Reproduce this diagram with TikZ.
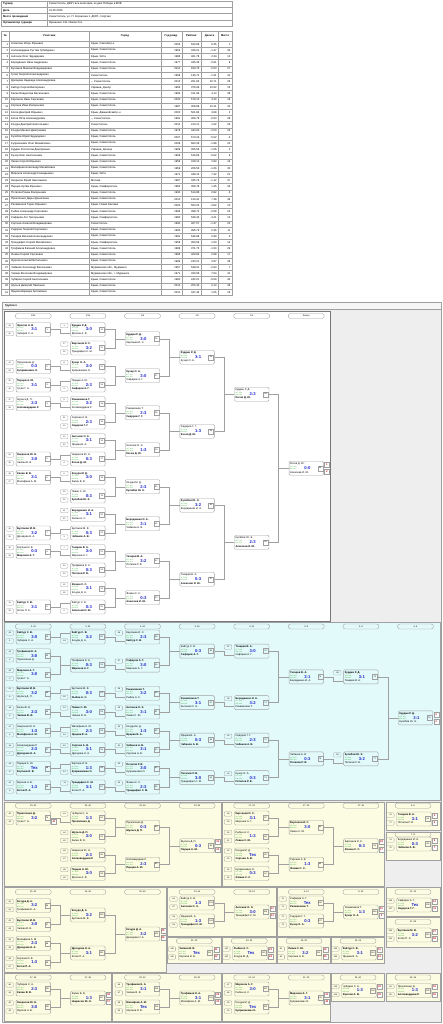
\documentclass[tikz,border=0pt]{standalone}
\usepackage{fontspec}
\setmainfont{Liberation Sans}
\usepackage{tikz}
\usetikzlibrary{positioning,calc}
\definecolor{lineGray}{RGB}{160,160,160}
\definecolor{frameGray}{RGB}{120,120,120}
\definecolor{bgGray}{RGB}{238,238,238}
\definecolor{hdrGray}{RGB}{246,246,246}
\definecolor{panelCyan}{RGB}{226,250,250}
\definecolor{panelYellow}{RGB}{252,252,226}
\definecolor{timeGreen}{RGB}{30,165,30}
\definecolor{scoreBlue}{RGB}{30,40,205}
\definecolor{resRed}{RGB}{205,20,20}

\newcounter{mnum}
% match box: name, x, y, top player, bottom player, score
\newcommand{\mt}[6]{%
  \stepcounter{mnum}%
  \node[mbox] (#1) at (#2,#3) {};
  \node[pname] (#1a) at ([xshift=1.1pt,yshift=4pt]#1.west) {#4};
  \node[ptime] (#1t) at ([xshift=1.1pt,yshift=1.3pt]#1.west) {11:7 11:9};
  \node[ptime] (#1u) at ([xshift=1.1pt,yshift=-1.1pt]#1.west) {8:11 11:6};
  \node[pscore] (#1s) at ([xshift=1pt]#1.center) {#6};
  \node[pname] (#1b) at ([xshift=1.1pt,yshift=-4pt]#1.west) {#5};
  \node[nbox] (#1n) at ([xshift=-3.6pt]#1.east) {\arabic{mnum}};
}
\newcommand{\sdt}[2]{\node[seedbox] (#1p) at ([xshift=-6.2pt,yshift=4pt]#1.west) {#2};}
\newcommand{\sdb}[2]{\node[seedbox] (#1q) at ([xshift=-6.2pt,yshift=-4pt]#1.west) {#2};}
\newcommand{\res}[3]{%
  \node[resbox] (#1x) at ([xshift=3.2pt,yshift=3.7pt]#1.east) {#2};
  \node[resbox] (#1y) at ([xshift=3.2pt,yshift=-3.7pt]#1.east) {#3};}
\newcommand{\jn}[3]{%
  \draw[conn] (#1.east) -- ++(9.5pt,0) |- (#3.west);
  \draw[conn] (#2.east) -- ++(9.5pt,0) |- (#3.west);}
\newcommand{\lk}[3]{\draw[conn] (#1.east) -- ++(9.5pt,0) |- ([yshift=#3]#2.west);}

\begin{document}
\begin{tikzpicture}[x=1pt,y=-1pt,
  mbox/.style={draw=lineGray,line width=.4pt,rounded corners=1.2pt,minimum width=34.5pt,minimum height=14pt,inner sep=0pt},
  pname/.style={anchor=west,inner sep=0pt,font=\fontsize{2.6}{3}\selectfont},
  ptime/.style={anchor=west,inner sep=0pt,text=timeGreen,font=\fontsize{1.6}{2}\selectfont},
  pscore/.style={inner sep=0pt,text=scoreBlue,font=\fontsize{4.2}{4.5}\selectfont\bfseries},
  nbox/.style={draw=lineGray,line width=.3pt,minimum width=5pt,minimum height=5pt,inner sep=0pt,font=\fontsize{2}{2.4}\selectfont},
  seedbox/.style={draw=lineGray,line width=.3pt,rounded corners=.8pt,minimum width=7.5pt,minimum height=4.4pt,inner sep=0pt,font=\fontsize{2}{2.4}\selectfont},
  resbox/.style={draw=lineGray,line width=.3pt,fill=white,minimum width=5pt,minimum height=5pt,inner sep=0pt,text=resRed,font=\fontsize{2.6}{3}\selectfont\bfseries},
  rhead/.style={draw=lineGray,line width=.35pt,rounded corners=2.4pt,minimum width=36pt,minimum height=5pt,inner sep=0pt,font=\fontsize{2.2}{2.6}\selectfont},
  conn/.style={draw=lineGray,line width=.4pt},
  tcell/.style={inner sep=0pt,font=\fontsize{2.7}{3.2}\selectfont},
  tgrid/.style={draw=lineGray,line width=.3pt},
  panel/.style={draw=lineGray,line width=.5pt}
]
\useasboundingbox (0,0) rectangle (443,1024);
\fill[white] (0,0) rectangle (443,1024);

% tournament header
\draw[tgrid] (1,1) rectangle (232,26.2);
\foreach \yy in {7.3,13.6,19.9} \draw[tgrid] (1,\yy) -- (232,\yy);
\draw[tgrid] (47,1) -- (47,26.2);
\node[tcell,anchor=west,font=\fontsize{2.7}{3.2}\selectfont\bfseries] (k1) at (3,4.15) {Турнир};
\node[tcell,anchor=west,font=\fontsize{2.7}{3.2}\selectfont\bfseries] (k2) at (3,10.45) {Дата};
\node[tcell,anchor=west,font=\fontsize{2.7}{3.2}\selectfont\bfseries] (k3) at (3,16.75) {Место проведения};
\node[tcell,anchor=west,font=\fontsize{2.7}{3.2}\selectfont\bfseries] (k4) at (3,23.05) {Организатор турнира};
\node[tcell,anchor=west] (v1) at (49,4.15) {Севастополь, ДЮП, все категории, ко дню Победы в ВОВ};
\node[tcell,anchor=west] (v2) at (49,10.45) {01.05.2025};
\node[tcell,anchor=west] (v3) at (49,16.75) {Севастополь, ул. П. Корчагина 1, ДЮП, спортзал};
\node[tcell,anchor=west] (v4) at (49,23.05) {Ярошенко С.В./Чижов О.А.};

% participants
\draw[tgrid] (1.5,31) rectangle (232,295.2);
\foreach \k in {1,...,41} \draw[tgrid] (1.5,{34.8+6.2*\k}) -- (232,{34.8+6.2*\k});
\foreach \xx in {9.3,89.3,160.7,182,201,218.3} \draw[tgrid] (\xx,31) -- (\xx,295.2);
\node[tcell,font=\fontsize{2.7}{3.2}\selectfont\bfseries] (t1) at (5.4,36) {№};
\node[tcell,font=\fontsize{2.7}{3.2}\selectfont\bfseries] (t2) at (49.3,36) {Участник};
\node[tcell,font=\fontsize{2.7}{3.2}\selectfont\bfseries] (t3) at (125,36) {Город};
\node[tcell,font=\fontsize{2.7}{3.2}\selectfont\bfseries] (t4) at (171.3,36) {Год рожд.};
\node[tcell,font=\fontsize{2.7}{3.2}\selectfont\bfseries] (t5) at (191.5,36) {Рейтинг};
\node[tcell,font=\fontsize{2.7}{3.2}\selectfont\bfseries] (t6) at (209.6,36) {Дельта};
\node[tcell,font=\fontsize{2.7}{3.2}\selectfont\bfseries] (t7) at (225.1,36) {Место};
\foreach \i/\nm/\ct/\yr/\rt/\dl/\pl in {
 1/{Алексеев Игорь Юрьевич}/{Крым, Сакский р-н}/2005/533.68/6.35/1,
 2/{Аллахвердиев Рустам Губейдович}/{Крым, Севастополь}/1962/326.21/-1.47/35,
 3/{Антонов Олег Эдуардович}/{Крым, Ялта}/1986/461.78/2.34/13,
 4/{Бородаенко Иван Андреевич}/{Крым, Севастополь}/1977/345.36/-0.61/8,
 5/{Булгаков Максим Владимирович}/{Крым, Севастополь}/2010/183.76/-0.53/27,
 6/{Гусев Георгий Александрович}/{Севастополь}/1966/136.72/-1.31/41,
 7/{Дроздова Надежда Александровна}/{--, Севастополь}/2013/201.93/10.71/26,
 8/{Кайтур Сергей Викторович}/{Украина, Днепр}/1966/376.99/10.62/15,
 9/{Калин Владислав Васильевич}/{Крым, Севастополь}/1984/311.99/4.13/38,
 10/{Кирсанов Иван Сергеевич}/{Крым, Севастополь}/2000/579.15/4.30/18,
 11/{Кортнев Иван Валерьевич}/{Крым, Севастополь}/1987/408.88/10.31/32,
 12/{Косов Дмитрий Юрьевич}/{Крым, Джанкойский р-н}/2003/501.84/3.68/2,
 13/{Котов Пётр Александрович}/{--, Севастополь}/1991/406.79/-0.53/28,
 14/{Кочура Дмитрий Анатольевич}/{Севастополь}/2013/214.11/1.62/25,
 15/{Кочура Михаил Дмитриевич}/{Крым, Севастополь}/1976/443.63/-2.04/24,
 16/{Кулябов Юрий Эдуардович}/{Крым, Севастополь}/2007/573.24/-5.02/4,
 17/{Куприянович Олег Михайлович}/{Крым, Севастополь}/2008/683.39/-1.88/22,
 18/{Курдин Ростислав Дмитриевич}/{Украина, Донецк}/1969/355.66/-1.06/3,
 19/{Кучер Олег Анатольевич}/{Крым, Севастополь}/1969/516.86/-5.62/9,
 20/{Левин Сергей Юрьевич}/{Крым, Севастополь}/1958/418.10/1.83/19,
 21/{Малафеев Александр Михайлович}/{Крым, Севастополь}/1959/206.55/-1.06/30,
 22/{Миронов Александр Геннадьевич}/{Крым, Ялта}/1971/349.15/7.32/21,
 23/{Некрасов Юрий Николаевич}/{Москва}/1987/335.76/-1.12/37,
 24/{Перцев Артём Юрьевич}/{Крым, Симферополь}/1982/358.78/1.45/33,
 25/{Потапов Роман Валерьевич}/{Крым, Севастополь}/1990/514.88/2.82/6,
 26/{Прокопенко Дарья Денисовна}/{Крым, Севастополь}/2010/124.41/7.38/36,
 27/{Рахимзянов Тарас Юрьевич}/{Крым, Новая Каховка}/2005/553.23/-3.82/10,
 28/{Рыбин Александр Сергеевич}/{Крым, Севастополь}/1985/398.72/-0.69/23,
 29/{Сафаров Ант Григорьевич}/{Крым, Симферополь}/1980/538.43/-3.21/12,
 30/{Сергеев Алексей Владимирович}/{Севастополь}/1990/407.57/-1.47/20,
 31/{Сидоров Георгий Георгиевич}/{Крым, Севастополь}/1965/495.79/2.35/11,
 32/{Тазарев Виталий Александрович}/{Крым, Севастополь}/1981/546.68/0.99/5,
 33/{Трандафил Сергей Михайлович}/{Крым, Симферополь}/1958/450.59/1.54/14,
 34/{Трофимов Евгений Александрович}/{Крым, Севастополь}/1989/371.70/-1.50/29,
 35/{Фомин Сергей Сергеевич}/{Крым, Севастополь}/1986/409.84/2.98/17,
 36/{Фролов Алексей Витальевич}/{Крым, Севастополь}/1989/233.01/2.87/39,
 37/{Чабанов Александр Васильевич}/{Мурманская обл., Мурманск}/1957/548.91/-0.94/7,
 38/{Чапкин Вячеслав Владимирович}/{Мурманская обл., г. Мурманск}/1971/330.68/7.54/31,
 39/{Чубаров Сергей Анатольевич}/{Крым, Севастополь}/1980/242.01/-6.59/40,
 40/{Шульга Дмитрий Павлович}/{Крым, Севастополь}/2013/205.43/2.13/34,
 41/{Ярцева Варвара Артёмовна}/{Крым, Севастополь}/2010/437.44/1.55/16}{
  \pgfmathsetmacro{\yy}{44.1+6.2*(\i-1)}
  \node[tcell,anchor=east] (pn\i) at (8.3,\yy) {\i};
  \node[tcell,anchor=west] (pf\i) at (11,\yy) {\nm};
  \node[tcell,anchor=west] (pc\i) at (91,\yy) {\ct};
  \node[tcell,anchor=east] (py\i) at (180.5,\yy) {\yr};
  \node[tcell,anchor=east] (pr\i) at (199.5,\yy) {\rt};
  \node[tcell,anchor=east] (pd\i) at (216.8,\yy) {\dl};
  \node[tcell,anchor=east] (pp\i) at (230.5,\yy) {\pl};
}

% group frame and panels
\draw[panel,fill=hdrGray] (2,302.5) rectangle (441.5,309.5);
\node[tcell,anchor=west,font=\fontsize{2.7}{3.2}\selectfont\bfseries] (grp) at (5,306) {Группа 1};
\draw[panel,fill=bgGray] (2,309.5) rectangle (441.5,1022.5);
\draw[draw=frameGray,line width=.7pt,fill=white] (4,311) rectangle (330.5,621.5);
\draw[panel,fill=panelCyan] (4,622.5) rectangle (440,800.5);
\foreach \xa/\ya/\xb/\yb in {4/802/221/886, 222.5/802/384/886, 386/802/440/830, 386/832/440/860,
  4/887.5/166/972, 167.5/887.5/276/936, 277.5/887.5/384/936, 386/887.5/440/916, 386/917.5/440/947,
  167.5/937.5/221/963, 222.5/937.5/276/963, 277.5/937.5/330/963, 331.5/937.5/384/963,
  4/973.5/111/1021, 112.5/973.5/221/1021, 222.5/973.5/330/1021, 331.5/973.5/384/1001, 386/973.5/440/1001}
  {\draw[panel,fill=panelYellow] (\xa,\ya) rectangle (\xb,\yb);}

% round headers
\node[rhead] (hg1) at (33.3,316) {1/32};
\node[rhead] (hg2) at (87.9,316) {1/16};
\node[rhead] (hg3) at (142.5,316) {1/8};
\node[rhead] (hg4) at (197.1,316) {1/4};
\node[rhead] (hg5) at (251.7,316) {1/2};
\node[rhead] (hg6) at (306.3,316) {Финал};
\foreach \xx/\tx [count=\c] in {33.3/3..41, 87.9/3..32, 142.5/3..24, 197.1/3..16, 251.7/3..12, 306.3/3..8, 360.9/3..6, 415.5/3..4}
  {\node[rhead] (hk\c) at (\xx,626.5) {\tx};}
\foreach \xx/\yy/\tx [count=\c] in {33.3/805.7/33..41, 87.9/805.7/33..40, 142.5/805.7/33..36, 197.1/805.7/33..34,
  251.7/805.7/17..24, 306.3/805.7/17..20, 360.9/805.7/17..18, 413/805.7/5..6, 413/834.5/7..8,
  33.3/892/25..32, 87.9/892/25..28, 142.5/892/25..26, 197.1/892/13..16, 251.7/892/13..14,
  306.3/892/9..12, 360.9/892/9..10, 413/892/11..12, 413/922/27..28,
  194.3/941/31..32, 249.3/941/23..24, 304/941/19..20, 358/941/15..16,
  33.3/977.5/37..40, 87.9/977.5/37..38, 142.5/977.5/29..32, 197.1/977.5/29..30,
  251.7/977.5/21..24, 306.3/977.5/21..22, 358/977.5/39..40, 413/977.5/35..36}
  {\node[rhead] (hy\c) at (\xx,\yy) {\tx};}

% group 1: 1/32
\mt{ga0}{33.3}{329.5}{\textbf{Фролов А. В.}}{Чубаров С. А.}{3:1}\sdt{ga0}{33}\sdb{ga0}{32}
\mt{ga2}{33.3}{366.5}{Прокопенко Д.}{\textbf{Куприянович О.}}{0:3}\sdt{ga2}{41}\sdb{ga2}{24}
\mt{ga3}{33.3}{385}{\textbf{Перцев А. Ю.}}{Гусев Г. А.}{3:1}\sdt{ga3}{25}\sdb{ga3}{40}
\mt{ga4}{33.3}{403.5}{Шульга Д. П.}{\textbf{Аллахвердиев Р.}}{2:3}\sdt{ga4}{37}\sdb{ga4}{28}
\mt{ga7}{33.3}{459}{\textbf{Некрасов Ю. Н.}}{Чапкин В. В.}{3:0}\sdt{ga7}{29}\sdb{ga7}{36}
\mt{ga8}{33.3}{477.5}{\textbf{Калин В. В.}}{Малафеев А. М.}{3:1}\sdt{ga8}{38}\sdb{ga8}{27}
\mt{ga11}{33.3}{533}{\textbf{Булгаков М. В.}}{Дроздова Н. А.}{3:2}\sdt{ga11}{30}\sdb{ga11}{35}
\mt{ga12}{33.3}{551.5}{Кортнев И. В.}{\textbf{Миронов А. Г.}}{0:3}\sdt{ga12}{39}\sdb{ga12}{26}
\mt{ga15}{33.3}{607}{\textbf{Кайтур С. В.}}{Котов П. А.}{3:1}\sdt{ga15}{31}\sdb{ga15}{34}
% 1/16
\mt{gb0}{87.9}{329.5}{\textbf{Курдин Р. Д.}}{Фролов А. В.}{3:0}\sdt{gb0}{1}
\mt{gb1}{87.9}{348}{\textbf{Кирсанов И. С.}}{Трандафил С. М.}{3:2}\sdt{gb1}{17}\sdb{gb1}{16}
\mt{gb2}{87.9}{366.5}{\textbf{Кучер О. А.}}{Куприянович О.}{3:0}\sdt{gb2}{8}
\mt{gb3}{87.9}{385}{Перцев А. Ю.}{\textbf{Сафаров А. Г.}}{2:3}\sdb{gb3}{9}
\mt{gb4}{87.9}{403.5}{\textbf{Рахимзянов Т.}}{Аллахвердиев Р.}{3:2}\sdt{gb4}{5}
\mt{gb5}{87.9}{422}{Сергеев А. В.}{\textbf{Сидоров Г. Г.}}{2:3}\sdt{gb5}{21}\sdb{gb5}{12}
\mt{gb6}{87.9}{440.5}{\textbf{Антонов О. Э.}}{Ярцева В. А.}{3:1}\sdt{gb6}{13}\sdb{gb6}{20}
\mt{gb7}{87.9}{459}{Некрасов Ю. Н.}{\textbf{Косов Д. Ю.}}{0:3}\sdb{gb7}{4}
\mt{gb8}{87.9}{477.5}{\textbf{Кочура М. Д.}}{Калин В. В.}{3:0}\sdt{gb8}{6}
\mt{gb9}{87.9}{496}{Левин С. Ю.}{\textbf{Кулябов Ю. Э.}}{0:3}\sdt{gb9}{19}\sdb{gb9}{14}
\mt{gb10}{87.9}{514.5}{\textbf{Бородаенко И. А.}}{Рыбин А. С.}{3:1}\sdt{gb10}{11}\sdb{gb10}{22}
\mt{gb11}{87.9}{533}{Булгаков М. В.}{\textbf{Чабанов А. В.}}{0:3}\sdb{gb11}{3}
\mt{gb12}{87.9}{551.5}{\textbf{Тазарев В. А.}}{Миронов А. Г.}{3:0}\sdt{gb12}{7}
\mt{gb13}{87.9}{570}{Трофимов Е. А.}{\textbf{Потапов Р. В.}}{0:3}\sdt{gb13}{23}\sdb{gb13}{10}
\mt{gb14}{87.9}{588.5}{\textbf{Фомин С. С.}}{Кочура Д. А.}{3:1}\sdt{gb14}{15}\sdb{gb14}{18}
\mt{gb15}{87.9}{607}{Кайтур С. В.}{\textbf{Алексеев И. Ю.}}{0:3}\sdb{gb15}{2}
% 1/8
\mt{gc0}{142.5}{338.75}{\textbf{Курдин Р. Д.}}{Кирсанов И. С.}{3:0}
\mt{gc1}{142.5}{375.75}{\textbf{Кучер О. А.}}{Сафаров А. Г.}{3:0}
\mt{gc2}{142.5}{412.75}{Рахимзянов Т.}{\textbf{Сидоров Г. Г.}}{2:3}
\mt{gc3}{142.5}{449.75}{Антонов О. Э.}{\textbf{Косов Д. Ю.}}{1:3}
\mt{gc4}{142.5}{486.75}{Кочура М. Д.}{\textbf{Кулябов Ю. Э.}}{2:3}
\mt{gc5}{142.5}{523.75}{\textbf{Бородаенко И. А.}}{Чабанов А. В.}{3:1}
\mt{gc6}{142.5}{560.75}{\textbf{Тазарев В. А.}}{Потапов Р. В.}{3:2}
\mt{gc7}{142.5}{597.75}{Фомин С. С.}{\textbf{Алексеев И. Ю.}}{0:3}
% 1/4, 1/2, final
\mt{gd0}{197.1}{357.25}{\textbf{Курдин Р. Д.}}{Кучер О. А.}{3:1}
\mt{gd1}{197.1}{431.25}{Сидоров Г. Г.}{\textbf{Косов Д. Ю.}}{1:3}
\mt{gd2}{197.1}{505.25}{\textbf{Кулябов Ю. Э.}}{Бородаенко И. А.}{3:2}
\mt{gd3}{197.1}{579.25}{Тазарев В. А.}{\textbf{Алексеев И. Ю.}}{0:3}
\mt{ge0}{251.7}{394.25}{Курдин Р. Д.}{\textbf{Косов Д. Ю.}}{2:3}
\mt{ge1}{251.7}{542.25}{Кулябов Ю. Э.}{\textbf{Алексеев И. Ю.}}{2:3}
\mt{gf}{306.3}{468.25}{Косов Д. Ю.}{Алексеев И. Ю.}{0:0}\res{gf}{1}{2}

\lk{ga0}{gb0}{-4pt} \lk{ga2}{gb2}{-4pt} \lk{ga3}{gb3}{4pt} \lk{ga4}{gb4}{-4pt} \lk{ga7}{gb7}{4pt}
\lk{ga8}{gb8}{-4pt} \lk{ga11}{gb11}{4pt} \lk{ga12}{gb12}{-4pt} \lk{ga15}{gb15}{4pt}
\foreach \a/\b/\c in {gb0/gb1/gc0, gb2/gb3/gc1, gb4/gb5/gc2, gb6/gb7/gc3, gb8/gb9/gc4, gb10/gb11/gc5,
  gb12/gb13/gc6, gb14/gb15/gc7, gc0/gc1/gd0, gc2/gc3/gd1, gc4/gc5/gd2, gc6/gc7/gd3,
  gd0/gd1/ge0, gd2/gd3/ge1, ge0/ge1/gf}
  {\jn{\a}{\b}{\c}}

% 3..4 consolation
\mt{ka0}{33.3}{637}{\textbf{Кайтур С. В.}}{Чубаров С. А.}{3:0}\sdt{ka0}{-25}\sdb{ka0}{-1}
\mt{ka1}{33.3}{655.75}{\textbf{Трофимов Е. А.}}{Прокопенко Д.}{3:0}\sdt{ka1}{-23}\sdb{ka1}{-2}
\mt{ka2}{33.3}{674.5}{\textbf{Миронов А. Г.}}{Гусев Г. А.}{3:0}\sdt{ka2}{-22}\sdb{ka2}{-3}
\mt{ka3}{33.3}{693.25}{\textbf{Булгаков М. В.}}{Шульга Д. П.}{3:2}\sdt{ka3}{-21}\sdb{ka3}{-4}
\mt{ka4}{33.3}{712}{Калин В. В.}{\textbf{Чапкин В. В.}}{2:3}\sdt{ka4}{-18}\sdb{ka4}{-5}
\mt{ka5}{33.3}{730.75}{Некрасов Ю. Н.}{\textbf{Малафеев А. М.}}{1:3}\sdt{ka5}{-17}\sdb{ka5}{-6}
\mt{ka6}{33.3}{749.5}{Аллахвердиев Р.}{\textbf{Дроздова Н. А.}}{2:3}\sdt{ka6}{-14}\sdb{ka6}{-7}
\mt{ka7}{33.3}{768.25}{Перцев А. Ю.}{\textbf{Кортнев И. В.}}{Тех}\sdt{ka7}{-13}\sdb{ka7}{-8}
\mt{ka8}{33.3}{787}{Фролов А. В.}{\textbf{Котов П. А.}}{1:3}\sdt{ka8}{-10}\sdb{ka8}{-9}
\mt{kb0}{87.9}{637}{\textbf{Кайтур С. В.}}{Кочура Д. А.}{3:2}\sdb{kb0}{-24}
\mt{kb1}{87.9}{665.125}{Трофимов Е. А.}{\textbf{Миронов А. Г.}}{0:3}
\mt{kb3}{87.9}{693.25}{Булгаков М. В.}{\textbf{Рыбин А. С.}}{0:3}\sdb{kb3}{-20}
\mt{kb4}{87.9}{712}{\textbf{Левин С. Ю.}}{Чапкин В. В.}{3:0}\sdt{kb4}{-19}
\mt{kb5}{87.9}{730.75}{Малафеев А. М.}{\textbf{Ярцева В. А.}}{2:3}\sdb{kb5}{-16}
\mt{kb6}{87.9}{749.5}{\textbf{Сергеев А. В.}}{Дроздова Н. А.}{3:1}\sdt{kb6}{-15}
\mt{kb7}{87.9}{768.25}{Кортнев И. В.}{\textbf{Куприянович О.}}{1:3}\sdb{kb7}{-12}
\mt{kb8}{87.9}{787}{\textbf{Трандафил С. М.}}{Котов П. А.}{3:1}\sdt{kb8}{-11}
\mt{kc0}{142.5}{637}{Кирсанов И. С.}{\textbf{Кайтур С. В.}}{2:3}\sdt{kc0}{-26}
\mt{kc1}{142.5}{665.125}{\textbf{Сафаров А. Г.}}{Миронов А. Г.}{3:0}\sdt{kc1}{-27}
\mt{kc3}{142.5}{693.25}{\textbf{Рахимзянов Т.}}{Рыбин А. С.}{3:2}\sdt{kc3}{-28}
\mt{kc4}{142.5}{712}{\textbf{Антонов О. Э.}}{Левин С. Ю.}{3:1}\sdt{kc4}{-29}
\mt{kc5}{142.5}{730.75}{Кочура М. Д.}{\textbf{Ярцева В. А.}}{1:3}\sdt{kc5}{-30}
\mt{kc6}{142.5}{749.5}{\textbf{Чабанов А. В.}}{Сергеев А. В.}{3:1}\sdt{kc6}{-31}
\mt{kc7}{142.5}{768.25}{\textbf{Потапов Р. В.}}{Куприянович О.}{3:0}\sdt{kc7}{-32}
\mt{kc8}{142.5}{787}{Фомин С. С.}{\textbf{Трандафил С. М.}}{2:3}\sdt{kc8}{-33}
\mt{kd0}{197.1}{651.06}{Кайтур С. В.}{\textbf{Сафаров А. Г.}}{0:3}
\mt{kd1}{197.1}{702.63}{\textbf{Рахимзянов Т.}}{Антонов О. Э.}{3:1}
\mt{kd2}{197.1}{740.13}{Ярцева В. А.}{\textbf{Чабанов А. В.}}{0:3}
\mt{kd3}{197.1}{777.63}{\textbf{Потапов Р. В.}}{Трандафил С. М.}{3:0}
\mt{ke0}{251.7}{651.06}{\textbf{Тазарев В. А.}}{Сафаров А. Г.}{3:0}\sdt{ke0}{-37}
\mt{ke1}{251.7}{702.63}{\textbf{Бородаенко И. А.}}{Рахимзянов Т.}{3:2}\sdt{ke1}{-36}
\mt{ke2}{251.7}{740.13}{Сидоров Г. Г.}{\textbf{Чабанов А. В.}}{2:3}\sdt{ke2}{-35}
\mt{ke3}{251.7}{777.63}{Кучер О. А.}{\textbf{Потапов Р. В.}}{0:3}\sdt{ke3}{-34}
\mt{kf0}{306.3}{676.84}{\textbf{Тазарев В. А.}}{Бородаенко И. А.}{3:1}
\mt{kf1}{306.3}{758.88}{Чабанов А. В.}{\textbf{Потапов Р. В.}}{0:3}
\mt{kg0}{360.9}{676.84}{\textbf{Курдин Р. Д.}}{Тазарев В. А.}{3:1}\sdt{kg0}{-38}
\mt{kg1}{360.9}{758.88}{\textbf{Кулябов Ю. Э.}}{Потапов Р. В.}{3:2}\sdt{kg1}{-39}
\mt{kh}{415.5}{717.86}{\textbf{Курдин Р. Д.}}{Кулябов Ю. Э.}{3:1}\res{kh}{3}{4}

\lk{ka0}{kb0}{4pt}
\foreach \a/\b/\s in {ka3/kb3/4pt, ka4/kb4/-4pt, ka5/kb5/4pt, ka6/kb6/-4pt, ka7/kb7/4pt, ka8/kb8/-4pt,
  kb0/kc0/-4pt, kb1/kc1/-4pt, kb3/kc3/-4pt, kb4/kc4/-4pt, kb5/kc5/-4pt, kb6/kc6/-4pt, kb7/kc7/-4pt, kb8/kc8/-4pt,
  kd0/ke0/-4pt, kd1/ke1/-4pt, kd2/ke2/-4pt, kd3/ke3/-4pt, kf0/kg0/-4pt, kf1/kg1/-4pt}
  {\lk{\a}{\b}{\s}}
\foreach \a/\b/\c in {ka1/ka2/kb1, kc0/kc1/kd0, kc3/kc4/kd1, kc5/kc6/kd2, kc7/kc8/kd3,
  ke0/ke1/kf0, ke2/ke3/kf1, kg0/kg1/kh}
  {\jn{\a}{\b}{\c}}

% places 33..41
\mt{A0}{33.3}{818}{\textbf{Прокопенко Д.}}{Гусев Г. А.}{3:2}\sdt{A0}{-42}\sdb{A0}{-43}
\node[resbox] (A0y) at ([xshift=3.2pt,yshift=-3.7pt]A0.east) {41};
\mt{A1}{87.9}{818}{Чубаров С. А.}{\textbf{Прокопенко Д.}}{1:3}\sdt{A1}{-41}
\mt{A2}{87.9}{836.5}{\textbf{Шульга Д. П.}}{Калин В. В.}{3:0}\sdt{A2}{-44}\sdb{A2}{-45}
\mt{A3}{87.9}{855}{Некрасов Ю. Н.}{\textbf{Аллахвердиев Р.}}{2:3}\sdt{A3}{-46}\sdb{A3}{-47}
\mt{A4}{87.9}{873.5}{\textbf{Перцев А. Ю.}}{Фролов А. В.}{3:0}\sdt{A4}{-48}\sdb{A4}{-49}
\mt{A5}{142.5}{827.25}{Прокопенко Д.}{\textbf{Шульга Д. П.}}{0:3}
\mt{A6}{142.5}{864.25}{Аллахвердиев Р.}{\textbf{Перцев А. Ю.}}{2:3}
\mt{A7}{197.1}{845.75}{Шульга Д. П.}{\textbf{Перцев А. Ю.}}{0:3}\res{A7}{34}{33}
\lk{A0}{A1}{-4pt}
% places 17..24
\mt{B0}{251.7}{818}{\textbf{Кирсанов И. С.}}{Миронов А. Г.}{3:1}\sdt{B0}{-58}\sdb{B0}{-59}
\mt{B1}{251.7}{836.5}{Рыбин А. С.}{\textbf{Левин С. Ю.}}{1:3}\sdt{B1}{-60}\sdb{B1}{-61}
\mt{B2}{251.7}{855}{Кочура М. Д.}{\textbf{Сергеев А. В.}}{Тех}\sdt{B2}{-62}\sdb{B2}{-63}
\mt{B3}{251.7}{873.5}{Куприянович О.}{\textbf{Фомин С. С.}}{0:3}\sdt{B3}{-64}\sdb{B3}{-65}
\mt{B4}{306.3}{827.25}{\textbf{Кирсанов И. С.}}{Левин С. Ю.}{3:0}
\mt{B5}{306.3}{864.25}{Сергеев А. В.}{\textbf{Фомин С. С.}}{1:3}
\mt{B6}{360.9}{845.75}{Кирсанов И. С.}{\textbf{Фомин С. С.}}{0:3}\res{B6}{18}{17}
\mt{C0}{414}{819}{\textbf{Тазарев В. А.}}{Потапов Р. В.}{3:1}\sdt{C0}{-76}\sdb{C0}{-77}\res{C0}{5}{6}
\mt{D0}{414}{844}{Бородаенко И. А.}{\textbf{Чабанов А. В.}}{0:3}\sdt{D0}{-74}\sdb{D0}{-75}\res{D0}{8}{7}
% places 25..32
\mt{E0}{33.3}{905.5}{\textbf{Кочура Д. А.}}{Трофимов Е. А.}{3:2}\sdt{E0}{-50}\sdb{E0}{-51}
\mt{E1}{33.3}{924.5}{\textbf{Булгаков М. В.}}{Чапкин В. В.}{3:0}\sdt{E1}{-52}\sdb{E1}{-53}
\mt{E2}{33.3}{943.5}{Малафеев А. М.}{\textbf{Дроздова Н. А.}}{2:3}\sdt{E2}{-54}\sdb{E2}{-55}
\mt{E3}{33.3}{962.5}{Кортнев И. В.}{\textbf{Котов П. А.}}{1:3}\sdt{E3}{-56}\sdb{E3}{-57}
\mt{E4}{87.9}{915}{\textbf{Кочура Д. А.}}{Булгаков М. В.}{3:2}
\mt{E5}{87.9}{953}{\textbf{Дроздова Н. А.}}{Котов П. А.}{3:1}
\mt{E6}{142.5}{934}{\textbf{Кочура Д. А.}}{Дроздова Н. А.}{3:2}\res{E6}{25}{26}
\mt{F0}{197.1}{903}{Кайтур С. В.}{\textbf{Антонов О. Э.}}{1:3}\sdt{F0}{-66}\sdb{F0}{-67}
\mt{F1}{197.1}{921}{Ярцева В. А.}{\textbf{Трандафил С. М.}}{1:3}\sdt{F1}{-68}\sdb{F1}{-69}
\mt{F2}{251.7}{912}{\textbf{Антонов О. Э.}}{Трандафил С. М.}{3:0}\res{F2}{13}{14}
\mt{G0}{306.3}{903}{Сафаров А. Г.}{\textbf{Рахимзянов Т.}}{Тех}\sdt{G0}{-70}\sdb{G0}{-71}
\mt{G1}{306.3}{921}{Сидоров Г. Г.}{\textbf{Кучер О. А.}}{0:3}\sdt{G1}{-72}\sdb{G1}{-73}
\mt{G2}{360.9}{912}{Рахимзянов Т.}{\textbf{Кучер О. А.}}{1:3}\res{G2}{10}{9}
\mt{H0}{414}{905}{Сафаров А. Г.}{\textbf{Сидоров Г. Г.}}{Тех}\sdt{H0}{-106}\sdb{H0}{-107}\res{H0}{12}{11}
\mt{I0}{414}{935}{\textbf{Булгаков М. В.}}{Котов П. А.}{3:2}\sdt{I0}{-100}\sdb{I0}{-101}\res{I0}{27}{28}
\mt{J0}{195.5}{953}{\textbf{Чапкин В. В.}}{Кортнев И. В.}{Тех}\sdt{J0}{-118}\sdb{J0}{-119}\res{J0}{31}{32}
\mt{K0}{250}{953}{\textbf{Рыбин А. С.}}{Кочура М. Д.}{Тех}\sdt{K0}{-121}\sdb{K0}{-122}\res{K0}{23}{24}
\mt{L0}{304.5}{953}{\textbf{Левин С. Ю.}}{Сергеев А. В.}{3:2}\sdt{L0}{-91}\sdb{L0}{-92}\res{L0}{19}{20}
\mt{M0}{359}{953}{\textbf{Кайтур С. В.}}{Ярцева В. А.}{3:1}\sdt{M0}{-103}\sdb{M0}{-104}\res{M0}{15}{16}
% places 37..40, 29..32, 21..24
\mt{N0}{33.3}{989}{Чубаров С. А.}{\textbf{Калин В. В.}}{2:3}\sdt{N0}{-80}\sdb{N0}{-81}
\mt{N1}{33.3}{1007}{\textbf{Некрасов Ю. Н.}}{Фролов А. В.}{3:0}\sdt{N1}{-82}\sdb{N1}{-83}
\mt{N2}{87.9}{998}{Калин В. В.}{\textbf{Некрасов Ю. Н.}}{1:3}\res{N2}{38}{37}
\mt{O0}{142.5}{989}{\textbf{Трофимов Е. А.}}{Чапкин В. В.}{3:1}\sdt{O0}{-96}\sdb{O0}{-97}
\mt{O1}{142.5}{1007}{\textbf{Малафеев А. М.}}{Кортнев И. В.}{Тех}\sdt{O1}{-98}\sdb{O1}{-99}
\mt{O2}{197.1}{998}{\textbf{Трофимов Е. А.}}{Малафеев А. М.}{3:1}\res{O2}{29}{30}
\mt{P0}{251.7}{989}{\textbf{Миронов А. Г.}}{Рыбин А. С.}{3:0}\sdt{P0}{-87}\sdb{P0}{-88}
\mt{P1}{251.7}{1007}{Кочура М. Д.}{\textbf{Куприянович О.}}{Тех}\sdt{P1}{-89}\sdb{P1}{-90}
\mt{P2}{306.3}{998}{\textbf{Миронов А. Г.}}{Куприянович О.}{3:1}\res{P2}{21}{22}
\mt{Q0}{359}{990.5}{Чубаров С. А.}{\textbf{Фролов А. В.}}{1:3}\sdt{Q0}{-115}\sdb{Q0}{-116}\res{Q0}{40}{39}
\mt{R0}{414}{990.5}{Прокопенко Д.}{\textbf{Аллахвердиев Р.}}{1:3}\sdt{R0}{-84}\sdb{R0}{-85}\res{R0}{36}{35}

\foreach \a/\b/\c in {A1/A2/A5, A3/A4/A6, A5/A6/A7, B0/B1/B4, B2/B3/B5, B4/B5/B6,
  E0/E1/E4, E2/E3/E5, E4/E5/E6, F0/F1/F2, G0/G1/G2, N0/N1/N2, O0/O1/O2, P0/P1/P2}
  {\jn{\a}{\b}{\c}}
\end{tikzpicture}
\end{document}
